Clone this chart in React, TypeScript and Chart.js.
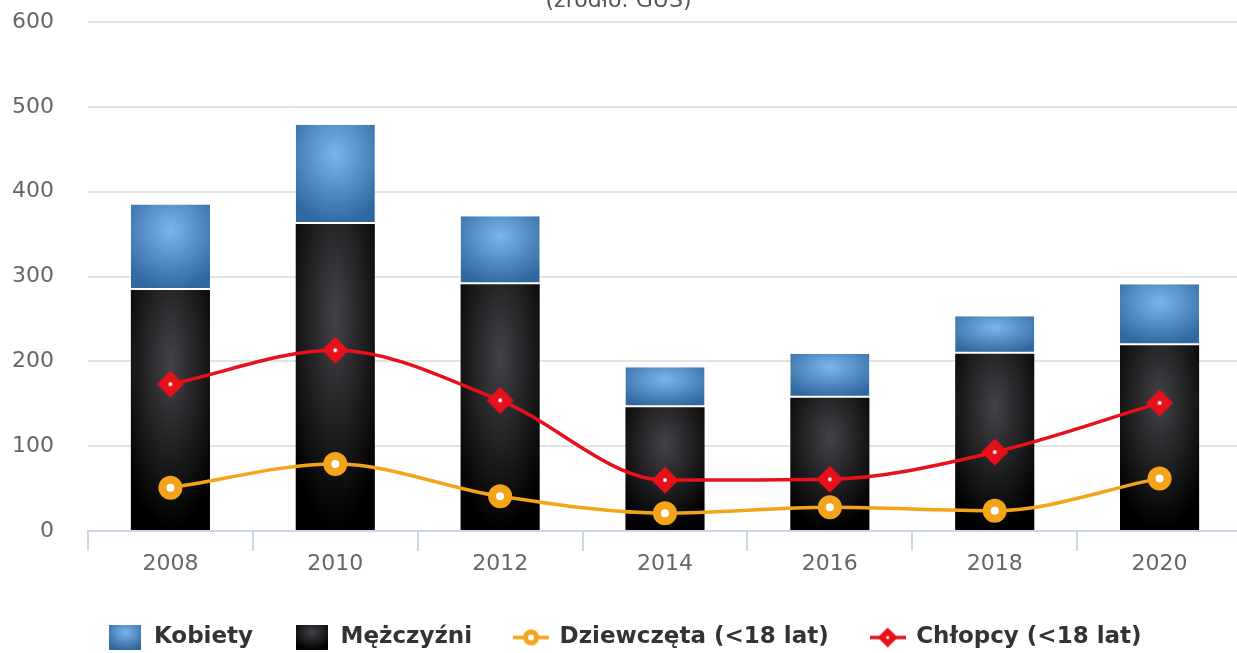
import React, { useEffect, useRef } from "react";
import { Chart, registerables } from "chart.js";

Chart.register(...registerables);

// ---- data ----
const years = ["2008", "2010", "2012", "2014", "2016", "2018", "2020"];
const kobiety = [101, 117, 80, 47, 52, 44, 72];
const mezczyzni = [284, 362, 291, 146, 157, 209, 219];
const dziewczeta = [51, 79, 41, 21, 28, 24, 62];
const chlopcy = [173, 213, 154, 60, 61, 93, 151];
const yMin = 0;
const yMax = 600;
const yStep = 100;
const seriesNames = ["Kobiety", "Mężczyźni", "Dziewczęta (<18 lat)", "Chłopcy (<18 lat)"];
const subtitle = "(źródło: GUS)";

// ---- styles ----
const BLUE = ["#7cb5ec", "#30689f"];
const BLACK = ["#434348", "#000000"];
const ORANGE = "#f3a41b";
const RED = "#e8101a";
const FONT = "'DejaVu Sans', sans-serif";

function gradientCanvas(w: number, h: number, stops: string[], pad = 2) {
  const W = Math.max(1, Math.ceil(w) + pad * 2);
  const H = Math.max(1, Math.ceil(h) + pad * 2);
  const off = document.createElement("canvas");
  off.width = W;
  off.height = H;
  const o = off.getContext("2d")!;
  o.translate(pad, pad);
  o.scale(Math.max(w, 1), Math.max(h, 1));
  const g = o.createRadialGradient(0.5, 0.3, 0, 0.5, 0.3, 0.7);
  g.addColorStop(0, stops[0]);
  g.addColorStop(1, stops[1]);
  o.fillStyle = g;
  o.fillRect(-1, -1, 3, 3);
  return off;
}

function barFill(context: any, stops: string[], lower: (i: number) => number, upper: (i: number) => number) {
  const chart = context.chart;
  const xs = chart.scales?.x;
  const ys = chart.scales?.y;
  const i = context.dataIndex;
  if (!xs || !ys || i === undefined || !xs.width || !ys.height) return stops[0];
  const cw = xs.width / years.length;
  const bw = cw * 0.48;
  const cx = xs.getPixelForValue(i);
  const top = ys.getPixelForValue(upper(i));
  const bottom = ys.getPixelForValue(lower(i));
  const h = Math.max(1, bottom - top);
  const left = cx - bw / 2;
  const pad = 3;
  const off = gradientCanvas(bw, h, stops, pad);
  const p = chart.ctx.createPattern(off, "no-repeat");
  if (!p) return stops[0];
  p.setTransform(new DOMMatrix().translate(left - pad, top - pad));
  return p;
}

function legendRect(stops: string[]) {
  const c = document.createElement("canvas");
  c.width = 32;
  c.height = 25;
  const o = c.getContext("2d")!;
  const g = gradientCanvas(32, 25, stops, 0);
  o.drawImage(g, 0, 0);
  return c;
}

function legendCircle() {
  const c = document.createElement("canvas");
  c.width = 36;
  c.height = 24;
  const o = c.getContext("2d")!;
  o.strokeStyle = ORANGE;
  o.lineWidth = 3.5;
  o.beginPath();
  o.moveTo(0, 12);
  o.lineTo(36, 12);
  o.stroke();
  o.beginPath();
  o.arc(18, 12, 5.5, 0, Math.PI * 2);
  o.fillStyle = "#fff";
  o.fill();
  o.lineWidth = 5;
  o.stroke();
  return c;
}

function diamond(size: number, half: number, dot: number, withLine: boolean, width = size) {
  const c = document.createElement("canvas");
  c.width = width;
  c.height = size;
  const o = c.getContext("2d")!;
  const cx = width / 2;
  const cy = size / 2;
  if (withLine) {
    o.strokeStyle = RED;
    o.lineWidth = 3.5;
    o.beginPath();
    o.moveTo(0, cy);
    o.lineTo(width, cy);
    o.stroke();
  }
  o.fillStyle = RED;
  o.beginPath();
  o.moveTo(cx, cy - half);
  o.lineTo(cx + half, cy);
  o.lineTo(cx, cy + half);
  o.lineTo(cx - half, cy);
  o.closePath();
  o.fill();
  o.fillStyle = "#fff";
  o.beginPath();
  o.arc(cx, cy, dot, 0, Math.PI * 2);
  o.fill();
  return c;
}

export default function App() {
  const ref = useRef<HTMLCanvasElement | null>(null);

  useEffect(() => {
    if (!ref.current) return;
    const redPoint = diamond(30, 13.5, 1.9, false);
    const legendImgs = [
      legendRect(BLUE),
      legendRect(BLACK),
      legendCircle(),
      diamond(24, 10, 1.6, true, 36),
    ];

    const subtitlePlugin = {
      id: "subtitleTop",
      afterDraw(chart: any) {
        const ctx = chart.ctx;
        ctx.save();
        ctx.font = `22px ${FONT}`;
        ctx.fillStyle = "#555";
        ctx.textAlign = "center";
        ctx.textBaseline = "alphabetic";
        ctx.fillText(subtitle, 618.5, 7);
        ctx.restore();
      },
    };

    const chart = new Chart(ref.current, {
      type: "bar",
      data: {
        labels: years,
        datasets: [
          {
            type: "bar",
            label: seriesNames[1],
            data: mezczyzni,
            stack: "bars",
            order: 1,
            backgroundColor: (c: any) => barFill(c, BLACK, () => 0, (i) => mezczyzni[i]),
            borderWidth: 0,
            barPercentage: 0.48,
            categoryPercentage: 1,
          },
          {
            type: "bar",
            label: seriesNames[0],
            data: kobiety,
            stack: "bars",
            order: 1,
            backgroundColor: (c: any) =>
              barFill(c, BLUE, (i) => mezczyzni[i], (i) => mezczyzni[i] + kobiety[i]),
            borderColor: "#ffffff",
            borderWidth: { top: 0, left: 0, right: 0, bottom: 2 },
            borderSkipped: false,
            barPercentage: 0.48,
            categoryPercentage: 1,
          },
          {
            type: "line",
            label: seriesNames[2],
            data: dziewczeta,
            stack: "girls",
            order: 0,
            borderColor: ORANGE,
            borderWidth: 3.5,
            cubicInterpolationMode: "monotone",
            pointStyle: "circle",
            pointRadius: 8,
            pointBorderWidth: 8,
            pointBackgroundColor: "#ffffff",
            pointBorderColor: ORANGE,
          },
          {
            type: "line",
            label: seriesNames[3],
            data: chlopcy,
            stack: "boys",
            order: 0,
            borderColor: RED,
            borderWidth: 3.5,
            cubicInterpolationMode: "monotone",
            pointStyle: redPoint as any,
            pointRadius: 13,
            pointBackgroundColor: RED,
            pointBorderColor: RED,
          },
        ] as any,
      },
      options: {
        animation: false,
        responsive: false,
        events: [],
        layout: { autoPadding: false, padding: { top: 22, left: 8, right: 0, bottom: 0 } },
        plugins: {
          tooltip: { enabled: false },
          title: { display: false },
          legend: {
            position: "bottom",
            align: "center",
            labels: {
              usePointStyle: true,
              pointStyleWidth: 34,
              padding: 42,
              color: "#333",
              font: { family: FONT, size: 23, weight: "bold" },
              generateLabels: () => {
                const map = [1, 0, 2, 3];
                return seriesNames.map((t, k) => ({
                  text: t,
                  fillStyle: "#000",
                  strokeStyle: "#000",
                  lineWidth: 0,
                  hidden: false,
                  pointStyle: legendImgs[k] as any,
                  datasetIndex: map[k],
                  fontColor: "#333",
                })) as any;
              },
            },
          },
        },
        scales: {
          x: {
            stacked: true,
            offset: true,
            afterFit: (s: any) => {
              s.height = 53;
            },
            grid: {
              drawOnChartArea: false,
              drawTicks: true,
              tickLength: 20,
              color: "#ccd6eb",
              lineWidth: 2,
              offset: true,
            },
            border: { display: true, color: "#ccd6eb", width: 2 },
            ticks: {
              color: "#666",
              padding: 2,
              font: { family: FONT, size: 22, lineHeight: 1 },
              maxRotation: 0,
            },
          },
          y: {
            stacked: true,
            min: yMin,
            max: yMax,
            afterFit: (s: any) => {
              s.width = 80;
              s.paddingTop = 0;
              s.paddingBottom = 0;
            },
            grid: {
              color: "#e3e3e3",
              lineWidth: 2,
              drawTicks: false,
            },
            border: { display: false },
            ticks: {
              stepSize: yStep,
              color: "#666",
              padding: 34,
              font: { family: FONT, size: 22, lineHeight: 1 },
            },
          },
        },
      } as any,
      plugins: [subtitlePlugin],
    });

    return () => chart.destroy();
  }, []);

  return (
    <div
      style={{
        position: "absolute",
        left: 0,
        top: 0,
        width: 1237,
        height: 653,
        overflow: "hidden",
        background: "#ffffff",
      }}
    >
      <canvas ref={ref} width={1242} height={659} style={{ display: "block", width: 1242, height: 659 }} />
    </div>
  );
}
